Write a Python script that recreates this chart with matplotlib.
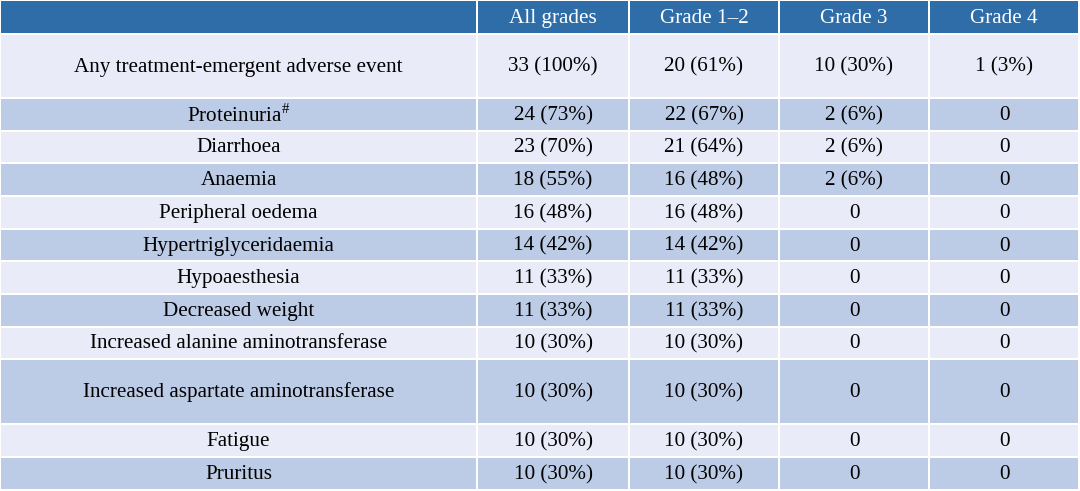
import matplotlib
matplotlib.use("Agg")
import matplotlib.pyplot as plt
from matplotlib.patches import Rectangle

headers = ["", "All grades", "Grade 1\u20132", "Grade 3", "Grade 4"]
events = ["Any treatment-emergent adverse event", "Proteinuria", "Diarrhoea", "Anaemia",
          "Peripheral oedema", "Hypertriglyceridaemia", "Hypoaesthesia", "Decreased weight",
          "Increased alanine aminotransferase", "Increased aspartate aminotransferase",
          "Fatigue", "Pruritus"]
all_grades = ["33 (100%)", "24 (73%)", "23 (70%)", "18 (55%)", "16 (48%)", "14 (42%)",
              "11 (33%)", "11 (33%)", "10 (30%)", "10 (30%)", "10 (30%)", "10 (30%)"]
grade12 = ["20 (61%)", "22 (67%)", "21 (64%)", "16 (48%)", "16 (48%)", "14 (42%)",
           "11 (33%)", "11 (33%)", "10 (30%)", "10 (30%)", "10 (30%)", "10 (30%)"]
grade3 = ["10 (30%)", "2 (6%)", "2 (6%)", "2 (6%)", "0", "0", "0", "0", "0", "0", "0", "0"]
grade4 = ["1 (3%)", "0", "0", "0", "0", "0", "0", "0", "0", "0", "0", "0"]

font = "Liberation Serif"
plt.rcParams['mathtext.fontset'] = 'custom'
plt.rcParams['mathtext.rm'] = font

W, H = 1080, 491
fig = plt.figure(figsize=(W/100, H/100), dpi=100)
ax = fig.add_axes([0, 0, 1, 1])
ax.set_xlim(0, W); ax.set_ylim(H, 0); ax.axis("off")

cols = [0, 477, 629, 779, 929, 1079]
row_edges = [0, 34, 98, 131, 163, 196, 229, 261, 294, 327, 359, 424, 457, 490]
hdr_c, light, dark = "#2F6DA8", "#E9ECF8", "#BDCCE6"
g = 1.0
fs = 15.2

rows = [[e, a, b, c, d] for e, a, b, c, d in zip(events, all_grades, grade12, grade3, grade4)]
table = [headers] + rows
for r, vals in enumerate(table):
    y0, y1 = row_edges[r], row_edges[r+1]
    fc = hdr_c if r == 0 else (light if r % 2 == 1 else dark)
    for c, v in enumerate(vals):
        x0, x1 = cols[c], cols[c+1]
        ax.add_patch(Rectangle((x0+g, y0+g), x1-x0-2*g, y1-y0-2*g, fc=fc, ec="none"))
        cx, cy = (x0+x1)/2, (y0+y1)/2+1
        if r == 0:
            if v:
                ax.text(cx, cy, v, ha="center", va="center",
                        color="white", fontsize=fs, family=font)
        elif c == 0 and v == "Proteinuria":
            ax.text(cx, cy, v + r"$^{\#}$", ha="center", va="center",
                    fontsize=fs, family=font)
        else:
            ax.text(cx, cy, v, ha="center", va="center",
                    fontsize=fs, family=font, color="black")

fig.savefig("out.png", dpi=100, facecolor="white")
